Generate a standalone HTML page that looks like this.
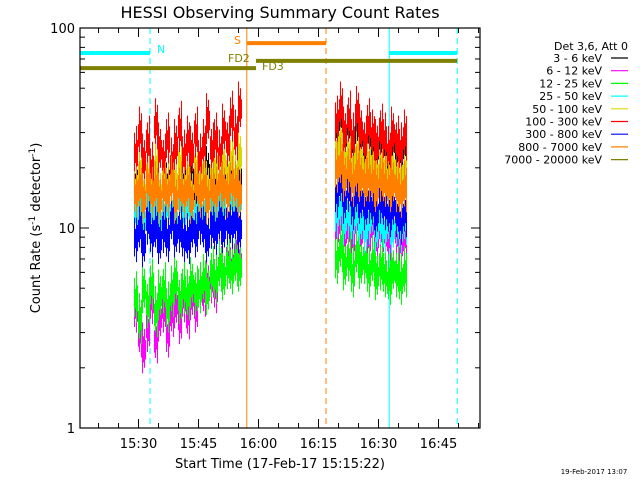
<!DOCTYPE html>
<html><head><meta charset="utf-8"><style>
body{margin:0;background:#fff;}
svg{display:block;font-family:"DejaVu Sans","Liberation Sans",sans-serif;}
</style></head><body>
<svg id="c" width="640" height="480" viewBox="0 0 640 480" xmlns="http://www.w3.org/2000/svg">
<rect width="640" height="480" fill="#fff"/>
<text x="280" y="18" font-size="16" text-anchor="middle">HESSI Observing Summary Count Rates</text>
<g id="data"></g>
<g id="axes"></g>
<text transform="translate(40,228) rotate(-90)" font-size="13" text-anchor="middle">Count Rate (s<tspan dy="-5" font-size="9">-1</tspan><tspan dy="5"> detector</tspan><tspan dy="-5" font-size="9">-1</tspan><tspan dy="5">)</tspan></text>
<text x="280" y="468" font-size="13" text-anchor="middle">Start Time (17-Feb-17 15:15:22)</text>
<g id="legend"></g>
<text x="594" y="474" font-size="7" text-anchor="middle">19-Feb-2017 13:07</text>
</svg>
<script>
const xTickLabels=["15:30","15:45","16:00","16:15","16:30","16:45"];
const xTickMinutes=[14.633,29.633,44.633,59.633,74.633,89.633];
const yTickValues=[1,10,100];
const seriesNames=["3 - 6 keV","6 - 12 keV","12 - 25 keV","25 - 50 keV","50 - 100 keV","100 - 300 keV","300 - 800 keV","800 - 7000 keV","7000 - 20000 keV"];
const seriesColors=["#000","#f0f","#0f0","#0ff","#d8d800","#f00","#00f","#ff8000","#808000"];
const seg1Start=13.5, seg2Start=63.75;
const s1Black=[17,16,15,18,16,17,15,16,17,18,15,16,17,16,18,15,17,16,19,17,18,16,17,18,19,17,18];
const s1Magenta=[4,3,2.5,3.2,4.4,2.8,3.6,4,3,3.8,4.2,3.5,4.5,3.7,4.6,4,5,4.8,5.2,5.6,5,6.5,5.8,7,6.4,7.6,6.8];
const s1Green=[4.5,3.5,5,4.2,5.2,3.8,4.6,5,4,4.8,5.5,4.4,5,4.6,5.3,4.8,5,5.5,4.9,6,5.6,6.4,5.8,6.6,6.2,6.8,6.4];
const s1Cyan=[12,13,11,14,12,13,11,12,13,12,11,14,12,13,11,12,13,12,14,13,12,14,13,15,14,13,14];
const s1Yellow=[16,19,15,18,17,20,15,19,16,18,17,21,16,18,15,20,17,19,16,18,20,17,21,19,22,18,23];
const s1Red=[24,30,22,27,20,33,25,22,28,21,26,32,23,27,24,30,22,26,35,25,28,23,31,27,36,29,40];
const s1Blue=[9,10,8.5,11,9.5,10,8.8,10,9,11,9.5,10,9,8.8,10,9.5,11,10,9,10.5,9.8,11,10,11,10.5,11,10];
const s1Orange=[15,16,14,17,15,16,14,16,15,17,14,16,15,16,14,17,15,16,14,16,15,17,16,15,17,16,15];
const s2Black=[32,36,29,33,27,31,29,26,30,27,25,28,26,23,27,25,24,26];
const s2Magenta=[10,11,9.5,10,9,11,9.5,10,9,10.5,9,10,9.5,9,10,9.5,8.5,9];
const s2Green=[7,8,6.5,7.2,6,7.5,6.6,7,6,6.8,5.8,6.5,6,5.5,6.2,6,5.5,6];
const s2Cyan=[12,13,11,12,11,12,11,10,11,12,10,11,10,11,10,11,10,11];
const s2Yellow=[25,27,22,24,21,23,22,20,22,21,19,21,20,18,20,19,18,19];
const s2Red=[34,40,30,36,28,38,31,27,33,29,26,31,28,24,30,27,25,29];
const s2Blue=[15,17,14,16,13,15,14,13,14,13,12,14,13,12,13,12,11,12];
const s2Orange=[20,21,18,20,17,19,18,17,18,17,16,18,17,16,17,16,15,16];

const NS="http://www.w3.org/2000/svg";
const X0=80,X1=480,Y0=28,Y1=428,TMAX=100;
const xs=m=>X0+(m/TMAX)*(X1-X0);
const ys=v=>Y1-(Math.log10(v)/2)*(Y1-Y0);
function mk(tag,attrs,parent){const e=document.createElementNS(NS,tag);for(const k in attrs)e.setAttribute(k,attrs[k]);parent.appendChild(e);return e;}
const data=document.getElementById('data'),axes=document.getElementById('axes'),leg=document.getElementById('legend');

const vlines=[[0,"#0ff",""],[17.5,"#0ff","6,4"],[41.7,"#ff8000",""],[61.5,"#ff8000","6,4"],[77.3,"#0ff",""],[94.3,"#0ff","6,4"]];
vlines.forEach(v=>{const l=mk('line',{x1:xs(v[0]),x2:xs(v[0]),y1:Y0,y2:Y1,stroke:v[1],'stroke-width':1,'stroke-dasharray':v[2]},data);

});

const pairs=[[s1Black,s2Black],[s1Magenta,s2Magenta],[s1Green,s2Green],[s1Cyan,s2Cyan],[s1Yellow,s2Yellow],[s1Red,s2Red],[s1Blue,s2Blue],[s1Orange,s2Orange]];
pairs.forEach((p,i)=>{[[p[0],seg1Start],[p[1],seg2Start]].forEach(([arr,st],si)=>{
 let d="";
 arr.forEach((v,j)=>{const xa=xs(st+j);
  // dense noisy band: several 1px vertical strokes per bin
  for(let k=0;k<4;k++){const f=[1.25,1.1,1.35,1.15][(j+k)%4],g=[0.8,0.88,0.75,0.85][(j*3+k)%4];
   const x=xa+k+0.5;d+="M"+x+","+ys(v*f)+"L"+x+","+ys(v*g);}
 });
 const path=mk('path',{d:d,fill:'none',stroke:seriesColors[i],'stroke-width':1.05},data);
 
 
});});

const bars=[[0,17.5,75,"#0ff"],[77.3,94.3,75,"#0ff"],[41.7,61.5,84,"#ff8000"],[44,94.3,68.5,"#808000"],[0,44,63,"#808000"]];
bars.forEach(b=>{const l=mk('line',{x1:xs(b[0]),x2:xs(b[1]),y1:ys(b[2]),y2:ys(b[2]),stroke:b[3],'stroke-width':4},data);

});
const labs=[["N",157,53,"#0ff"],["S",234,44,"#ff8000"],["FD2",228,62,"#808000"],["FD3",262,70,"#808000"]];
labs.forEach(t=>{const e=mk('text',{x:t[1],y:t[2],fill:t[3],'font-size':11},data);e.textContent=t[0];

});

const fr=mk('rect',{x:X0,y:Y0,width:X1-X0,height:Y1-Y0,fill:'none',stroke:'#000','stroke-width':1.2},axes);


for(let m=4.633;m<TMAX;m+=5){const x=xs(m);const major=xTickMinutes.some(t=>Math.abs(t-m)<0.01);const L=major?9:5;
 mk('line',{x1:x,x2:x,y1:Y1,y2:Y1-L,stroke:'#000'},axes);mk('line',{x1:x,x2:x,y1:Y0,y2:Y0+L,stroke:'#000'},axes);}
xTickLabels.forEach((s,i)=>{const e=mk('text',{x:xs(xTickMinutes[i]),y:448,'font-size':13,'text-anchor':'middle'},axes);e.textContent=s;

});
for(let dec=1;dec<100;dec*=10)for(let k=1;k<10;k++){const y=ys(dec*k);const L=k==1?9:5;
 mk('line',{x1:X0,x2:X0+L,y1:y,y2:y,stroke:'#000'},axes);mk('line',{x1:X1,x2:X1-L,y1:y,y2:y,stroke:'#000'},axes);}
yTickValues.forEach(v=>{const e=mk('text',{x:75,y:ys(v)+5,'font-size':13,'text-anchor':'end'},axes);e.textContent=String(v);

});

const h=mk('text',{x:628,y:50,'font-size':11,'text-anchor':'end'},leg);h.textContent="Det 3,6, Att 0";


seriesNames.forEach((n,i)=>{const y=58+i*12.7;
 const t=mk('text',{x:602,y:y+4,'font-size':11,'text-anchor':'end'},leg);t.textContent=n;
 
 
 const l=mk('line',{x1:611,x2:628,y1:y,y2:y,stroke:seriesColors[i],'stroke-width':1.2},leg);
 
 });
</script>
</body></html>
